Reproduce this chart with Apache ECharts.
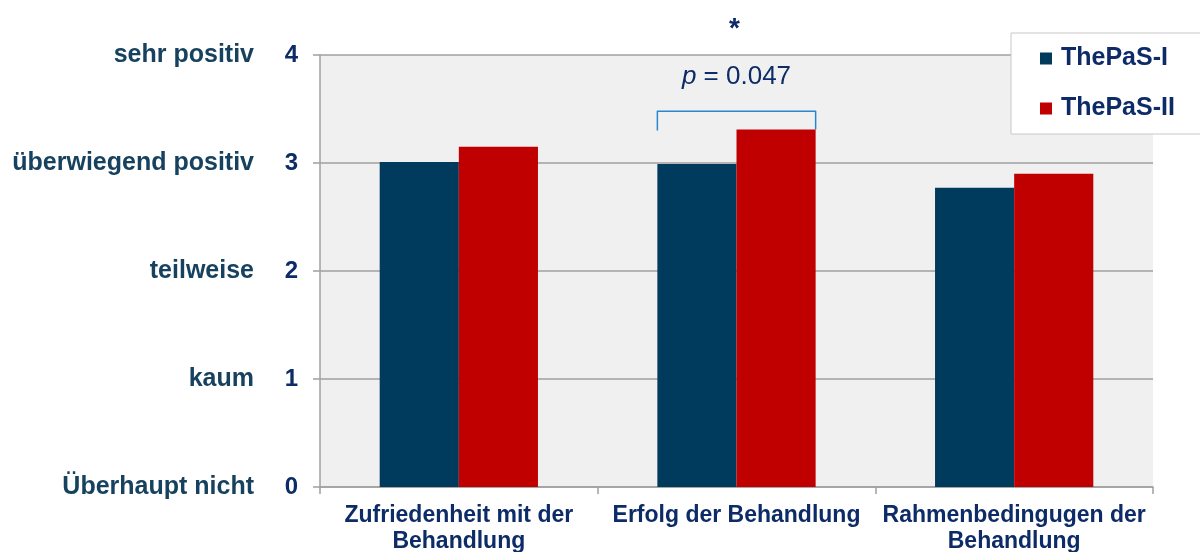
<!DOCTYPE html>
<html>
<head>
<meta charset="utf-8">
<script src="https://cdn.jsdelivr.net/npm/echarts@6/dist/echarts.min.js"></script>
<style>
    html, body { margin: 0; padding: 0; background: #fff; }
    #main { width: 1200px; height: 552px; }
</style>
</head>
<body>
<div id="main"></div>
<script>
    // Daten
    var categories = ['Zufriedenheit mit der\nBehandlung', 'Erfolg der Behandlung', 'Rahmenbedingugen der\nBehandlung'];
    var seriesNames = ['ThePaS-I', 'ThePaS-II'];
    var thepas1 = [3.01, 2.99, 2.77];
    var thepas2 = [3.15, 3.31, 2.90];
    var scaleLabels = ['Überhaupt nicht', 'kaum', 'teilweise', 'überwiegend positiv', 'sehr positiv'];
    var sigText = 'p = 0.047';

    var navy = '#0c2b67';
    var font = '"Liberation Sans", Arial, sans-serif';

    var el = document.getElementById('main');
    var myChart = echarts.init(el);
    var option = {
        animation: false,
        textStyle: { fontFamily: font },
        grid: {
            left: 320, right: 47, top: 55, bottom: 65,
            outerBoundsMode: 'none',
            containLabel: false,
            show: true,
            backgroundColor: '#f0f0f0',
            borderWidth: 0
        },
        legend: {
            data: seriesNames,
            orient: 'vertical',
            left: 1011, top: 33,
            padding: [13, 40, 13, 29],
            itemGap: 25,
            itemWidth: 12, itemHeight: 12,
            icon: 'rect',
            backgroundColor: '#fff',
            borderColor: '#c8c8c8',
            borderWidth: 1,
            textStyle: { color: navy, fontSize: 25, fontWeight: 'bold', fontFamily: font, padding: [0, 0, 0, 4] }
        },
        xAxis: {
            type: 'category',
            data: categories,
            axisLine: { show: true, lineStyle: { color: '#a0a0a0', width: 1.5 } },
            axisTick: { show: true, length: 7, lineStyle: { color: '#a0a0a0', width: 1.5 } },
            axisLabel: {
                color: navy, fontSize: 23, fontWeight: 'bold', fontFamily: font,
                margin: 16, lineHeight: 26, interval: 0
            }
        },
        yAxis: [
            {
                type: 'value', min: 0, max: 4, interval: 1,
                position: 'left',
                axisLine: { show: true, lineStyle: { color: '#a0a0a0', width: 1.5 } },
                axisTick: { show: true, length: 7, lineStyle: { color: '#a0a0a0', width: 1.5 } },
                splitLine: { show: true, lineStyle: { color: '#a0a0a0', width: 1.5 } },
                axisLabel: { color: navy, fontSize: 24, fontWeight: 'bold', fontFamily: font, margin: 22 }
            },
            {
                type: 'value', min: 0, max: 4, interval: 1,
                position: 'left', offset: 58,
                axisLine: { show: false },
                axisTick: { show: false },
                splitLine: { show: false },
                axisLabel: {
                    color: '#17425f', fontSize: 25, fontWeight: 'bold', fontFamily: font, margin: 8,
                    formatter: function (v) { return scaleLabels[v]; }
                }
            }
        ],
        series: [
            {
                name: seriesNames[0], type: 'bar', data: thepas1,
                barGap: '0%', barCategoryGap: '43%',
                itemStyle: { color: '#003a5c' }
            },
            {
                name: seriesNames[1], type: 'bar', data: thepas2,
                itemStyle: { color: '#c00000' }
            }
        ]
    };
    myChart.setOption(option);

    // Signifikanz-Klammer ueber "Erfolg der Behandlung"
    var finder = { xAxisIndex: 0, yAxisIndex: 0 };
    var c0 = myChart.convertToPixel(finder, [0, 0]);
    var c1 = myChart.convertToPixel(finder, [1, 3.48]);
    var band = c1[0] - c0[0];
    var half = band * 0.285;
    var yLeft = myChart.convertToPixel(finder, [1, 3.30])[1];
    var yRight = myChart.convertToPixel(finder, [1, thepas2[1]])[1];
    var yP = myChart.convertToPixel(finder, [1, 3.8])[1];
    var yStar = myChart.convertToPixel(finder, [1, 4.24])[1];

    myChart.setOption({
        graphic: [
            {
                type: 'polyline',
                shape: { points: [[c1[0] - half, yLeft], [c1[0] - half, c1[1]], [c1[0] + half, c1[1]], [c1[0] + half, yRight]] },
                style: { stroke: '#2a86d0', lineWidth: 1.5, fill: null, lineJoin: 'round' }
            },
            {
                type: 'text', x: c1[0], y: yP,
                style: {
                    text: '{i|p}{n|' + sigText.slice(1) + '}',
                    align: 'center', verticalAlign: 'middle',
                    rich: {
                        i: { fontStyle: 'italic', fontSize: 26, fill: navy, fontFamily: font },
                        n: { fontSize: 26, fill: navy, fontFamily: font }
                    }
                }
            },
            {
                type: 'text', x: c1[0] - 2, y: yStar,
                style: { text: '*', align: 'center', verticalAlign: 'middle', fontSize: 28, fontWeight: 'bold', fill: navy, fontFamily: font }
            }
        ]
    });
</script>
</body>
</html>
